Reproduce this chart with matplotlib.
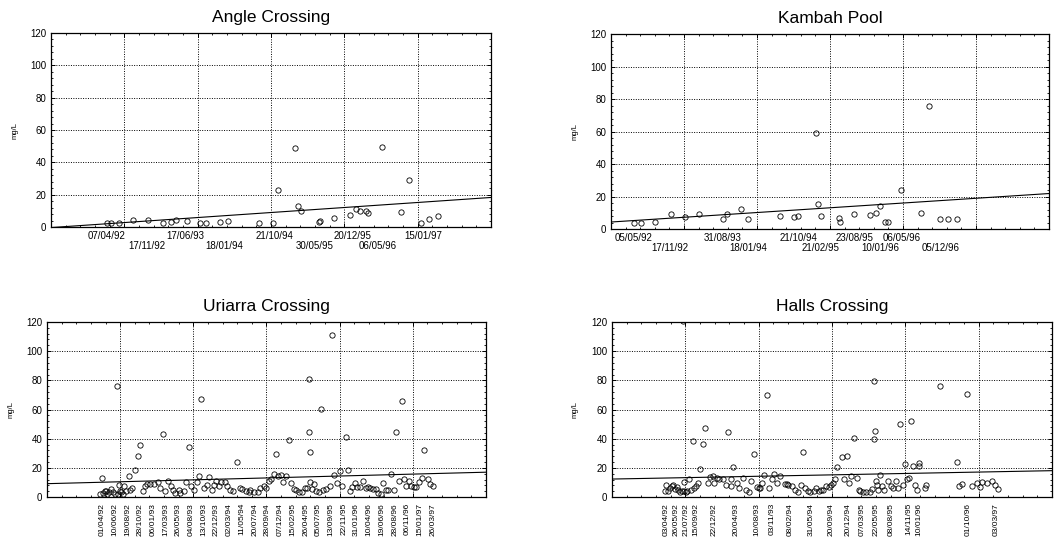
import numpy as np
import matplotlib.pyplot as plt
from datetime import date
from matplotlib.ticker import AutoMinorLocator, MultipleLocator

plt.rcParams['font.family'] = ['Liberation Sans', 'DejaVu Sans']

# sampling dates as decimal years, concentrations in mg/L
angle_x = [1992.27, 1992.34, 1992.45, 1992.66, 1992.89, 1993.12, 1993.24, 1993.32, 1993.48,
           1993.68, 1993.76, 1993.98, 1994.09, 1994.57, 1994.78, 1994.85, 1995.11, 1995.15,
           1995.19, 1995.47, 1995.49, 1995.69, 1995.93, 1996.03, 1996.09, 1996.17, 1996.21,
           1996.42, 1996.71, 1996.83, 1997.00, 1997.13, 1997.26]
angle_y = [2.4, 2.4, 2.4, 4.1, 4.1, 2.4, 3.3, 4.1, 3.9, 2.4, 2.4, 3.3, 3.5, 2.7, 2.7, 22.9,
           48.8, 13.1, 10.0, 3.3, 3.5, 5.7, 7.6, 11.0, 10.2, 10.2, 8.6, 49.8, 9.4, 29.0,
           2.7, 5.1, 6.9]
angle_labels = ['07/04/92', '17/11/92', '17/06/93', '18/01/94', '21/10/94', '30/05/95',
                '20/12/95', '06/05/96', '15/01/97']

kambah_x = [1992.345, 1992.455, 1992.65, 1992.89, 1993.10, 1993.31, 1993.67, 1993.74, 1993.95,
            1994.05, 1994.53, 1994.73, 1994.80, 1995.06, 1995.10, 1995.14, 1995.41, 1995.43,
            1995.64, 1995.87, 1995.96, 1996.02, 1996.10, 1996.14, 1996.34, 1996.64, 1996.75,
            1996.92, 1997.04, 1997.17]
kambah_y = [3.5, 3.5, 4.3, 9.4, 7.6, 9.4, 6.3, 9.4, 12.2, 6.1, 8.2, 7.1, 8.2, 59.0, 15.3, 7.8,
            6.7, 4.3, 9.2, 8.6, 10.0, 14.1, 4.3, 4.3, 24.1, 10.0, 75.9, 6.1, 6.1, 6.3]
kambah_labels = ['05/05/92', '17/11/92', '31/08/93', '18/01/94', '21/10/94', '21/02/95',
                 '23/08/95', '10/01/96', '06/05/96', '05/12/96']

uriarra_x = [1992.225, 1992.25, 1992.26, 1992.29, 1992.31, 1992.325, 1992.35, 1992.38, 1992.415,
             1992.45, 1992.476, 1992.486, 1992.50, 1992.516, 1992.536, 1992.56, 1992.586,
             1992.616, 1992.65, 1992.667, 1992.70, 1992.747, 1992.787, 1992.827, 1992.862,
             1992.893, 1992.933, 1992.978, 1993.033, 1993.088, 1993.128, 1993.174, 1993.204,
             1993.249, 1993.294, 1993.324, 1993.354, 1993.405, 1993.43, 1993.48, 1993.515,
             1993.555, 1993.59, 1993.636, 1993.676, 1993.716, 1993.746, 1993.786, 1993.831,
             1993.861, 1993.897, 1993.932, 1993.967, 1994.012, 1994.047, 1994.097, 1994.133,
             1994.173, 1994.218, 1994.278, 1994.323, 1994.358, 1994.409, 1994.459, 1994.484,
             1994.534, 1994.594, 1994.634, 1994.685, 1994.72, 1994.76, 1994.795, 1994.835,
             1994.865, 1994.896, 1994.941, 1994.971, 1995.026, 1995.061, 1995.096, 1995.132,
             1995.167, 1995.212, 1995.262, 1995.312, 1995.337, 1995.362, 1995.367, 1995.377,
             1995.387, 1995.403, 1995.438, 1995.468, 1995.513, 1995.553, 1995.583, 1995.628,
             1995.679, 1995.709, 1995.749, 1995.789, 1995.829, 1995.869, 1995.915, 1995.945,
             1995.975, 1996.015, 1996.06, 1996.09, 1996.14, 1996.18, 1996.216, 1996.251,
             1996.291, 1996.331, 1996.371, 1996.407, 1996.442, 1996.482, 1996.517, 1996.557,
             1996.602, 1996.643, 1996.673, 1996.718, 1996.758, 1996.803, 1996.833, 1996.868,
             1996.903, 1996.944, 1996.979, 1997.019, 1997.069, 1997.104, 1997.15, 1997.185,
             1997.225]
uriarra_y = [2.0, 13.0, 2.8, 4.0, 4.4, 2.3, 3.2, 5.5, 3.2, 2.3, 75.9, 2.3, 8.3, 3.9, 3.2, 2.3,
             7.8, 3.9, 14.3, 5.0, 6.2, 18.4, 28.3, 35.4, 4.4, 7.4, 9.2, 9.2, 9.2, 10.3, 6.0,
             43.4, 4.1, 11.3, 7.6, 5.1, 2.8, 5.1, 2.8, 4.4, 10.3, 34.3, 7.4, 5.1, 10.3, 14.3,
             66.9, 6.0, 8.0, 14.0, 5.1, 8.5, 11.3, 7.4, 10.1, 10.3, 7.8, 4.8, 4.4, 23.9, 6.0,
             5.3, 4.1, 3.2, 5.1, 3.2, 3.4, 6.2, 7.8, 6.2, 10.8, 12.4, 16.1, 29.7, 14.3, 15.2,
             10.3, 14.3, 39.3, 9.7, 5.5, 4.6, 3.7, 3.2, 6.2, 6.4, 80.7, 44.6, 30.6, 10.3, 5.5,
             9.0, 3.9, 3.2, 60.5, 4.6, 5.7, 7.4, 111.0, 15.4, 9.7, 17.5, 7.4, 41.4, 18.6, 3.9,
             7.1, 9.7, 6.9, 6.9, 11.3, 6.0, 6.9, 6.0, 5.5, 5.5, 2.8, 2.3, 9.4, 4.6, 4.6, 16.1,
             4.6, 44.6, 11.3, 65.7, 12.4, 7.8, 11.3, 7.4, 6.9, 6.9, 10.3, 13.1, 32.4, 12.4,
             9.0, 7.8]
uriarra_labels = ['01/04/92', '10/06/92', '19/08/92', '28/10/92', '06/01/93', '17/03/93',
                  '26/05/93', '04/08/93', '13/10/93', '22/12/93', '02/03/94', '11/05/94',
                  '20/07/94', '28/09/94', '07/12/94', '15/02/95', '26/04/95', '05/07/95',
                  '13/09/95', '22/11/95', '31/01/96', '10/04/96', '19/06/96', '28/08/96',
                  '06/11/96', '15/01/97', '26/03/97']

halls_x = [1992.245, 1992.255, 1992.29, 1992.315, 1992.339, 1992.364, 1992.389, 1992.414,
           1992.439, 1992.464, 1992.488, 1992.503, 1992.518, 1992.528, 1992.548, 1992.573,
           1992.603, 1992.632, 1992.662, 1992.677, 1992.702, 1992.727, 1992.761, 1992.801,
           1992.836, 1992.876, 1992.91, 1992.95, 1992.97, 1993.01, 1993.044, 1993.099,
           1993.149, 1993.183, 1993.223, 1993.228, 1993.258, 1993.308, 1993.342, 1993.407,
           1993.447, 1993.491, 1993.521, 1993.571, 1993.606, 1993.635, 1993.655, 1993.68,
           1993.72, 1993.754, 1993.794, 1993.834, 1993.869, 1993.903, 1993.953, 1994.027,
           1994.052, 1994.077, 1994.127, 1994.167, 1994.216, 1994.261, 1994.286, 1994.325,
           1994.365, 1994.40, 1994.45, 1994.484, 1994.524, 1994.559, 1994.598, 1994.633,
           1994.683, 1994.713, 1994.738, 1994.767, 1994.797, 1994.867, 1994.906, 1994.946,
           1994.971, 1995.015, 1995.045, 1995.095, 1995.13, 1995.149, 1995.189, 1995.224,
           1995.284, 1995.318, 1995.353, 1995.353, 1995.368, 1995.378, 1995.393, 1995.413,
           1995.433, 1995.467, 1995.502, 1995.552, 1995.602, 1995.631, 1995.671, 1995.701,
           1995.741, 1995.78, 1995.815, 1995.84, 1995.875, 1995.904, 1995.929, 1995.959,
           1995.989, 1996.013, 1996.013, 1996.103, 1996.128, 1996.336, 1996.585, 1996.619,
           1996.664, 1996.733, 1996.808, 1996.882, 1996.922, 1996.957, 1997.031, 1997.106,
           1997.156, 1997.195]
halls_y = [4.1, 8.3, 4.1, 6.2, 7.4, 8.3, 5.5, 6.9, 5.1, 3.2, 4.1, 120.5, 10.3, 4.1, 3.2, 4.1,
           12.2, 5.1, 38.4, 6.2, 7.4, 9.4, 19.5, 36.6, 47.4, 9.4, 13.6, 14.3, 9.4, 13.1, 12.4,
           12.4, 8.3, 44.6, 7.4, 12.4, 20.5, 9.4, 6.2, 13.3, 5.1, 3.2, 11.3, 29.7, 7.1, 6.0,
           6.2, 9.4, 15.4, 69.7, 6.2, 12.4, 15.9, 9.4, 14.3, 9.0, 9.0, 8.3, 7.4, 5.1, 3.2, 8.3,
           30.8, 6.2, 4.1, 3.2, 3.9, 6.2, 4.1, 5.1, 5.1, 7.8, 6.9, 8.3, 9.7, 12.4, 20.5, 27.1,
           12.4, 28.3, 9.4, 14.3, 40.5, 13.3, 5.1, 3.9, 3.2, 3.2, 3.2, 5.3, 79.8, 39.5, 45.5,
           11.3, 8.3, 5.1, 15.4, 7.4, 5.1, 11.3, 7.4, 6.2, 11.3, 6.2, 50.3, 8.3, 22.3, 12.4,
           13.3, 52.4, 21.4, 8.3, 5.1, 23.4, 21.4, 6.2, 8.3, 75.9, 24.1, 7.4, 8.7, 70.6, 7.4,
           9.4, 6.7, 10.3, 9.4, 11.3, 8.3, 5.5]
halls_labels = ['03/04/92', '26/05/92', '21/07/92', '15/09/92', '22/12/92', '20/04/93',
                '10/08/93', '03/11/93', '08/02/94', '31/05/94', '20/09/94', '20/12/94',
                '07/03/95', '22/05/95', '08/08/95', '14/11/95', '10/01/96', '01/10/96',
                '03/03/97']


def dec_year(s):
    d, m, y = (int(v) for v in s.split('/'))
    y += 1900
    start = date(y, 1, 1).toordinal()
    length = date(y + 1, 1, 1).toordinal() - start
    return y + (date(y, m, d).toordinal() - start) / length


def draw_panel(ax, title, xs, ys, labels, xlim, rotated):
    xs = np.array(xs)
    ys = np.array(ys)
    ax.plot(xs, ys, 'o', mfc='none', mec='black', ms=3.8, mew=0.6)

    # linear trend across the whole axis
    k, b = np.polyfit(xs, ys, 1)
    ax.plot(xlim, [k * xlim[0] + b, k * xlim[1] + b], color='black', lw=0.8)

    ax.set_xlim(xlim)
    ax.set_ylim(0, 120)
    ax.set_xticks(np.linspace(xlim[0], xlim[1], 7))
    ax.set_xticklabels([])
    ax.xaxis.set_minor_locator(AutoMinorLocator(5))
    ax.yaxis.set_major_locator(MultipleLocator(20))
    ax.yaxis.set_minor_locator(AutoMinorLocator(5))
    ax.tick_params(which='both', direction='in', top=True, right=True, labelsize=7)
    ax.tick_params(which='major', length=3, width=0.7)
    ax.tick_params(which='minor', length=1.5, width=0.6)
    ax.tick_params(axis='x', which='major', pad=0)
    ax.grid(True, which='major', color='black', linestyle=(0, (1, 1.5)), linewidth=0.7)
    for sp in ax.spines.values():
        sp.set_linewidth(0.9)

    ax.set_title(title, fontsize=12.5, pad=8)
    ax.set_ylabel('mg/L', fontsize=5.5)
    ax.yaxis.set_label_coords(-0.075, 0.5)

    for i, lab in enumerate(labels):
        if rotated:
            ax.annotate(lab, xy=(dec_year(lab), 0), xycoords=('data', 'axes fraction'),
                        xytext=(0, -4.3), textcoords='offset points', rotation=90,
                        ha='center', va='top', fontsize=6)
        else:
            off = -6.5 if i % 2 == 0 else -13.7
            ax.annotate(lab, xy=(dec_year(lab), 0), xycoords=('data', 'axes fraction'),
                        xytext=(0, off), textcoords='offset points',
                        ha='center', va='center', fontsize=7)


fig = plt.figure(figsize=(10.59, 5.39), dpi=100)
ax1 = fig.add_axes([0.0482, 0.5788, 0.4155, 0.3600])
ax2 = fig.add_axes([0.5770, 0.5751, 0.4136, 0.3618])
ax3 = fig.add_axes([0.0444, 0.0779, 0.4145, 0.3247])
ax4 = fig.add_axes([0.5779, 0.0779, 0.4155, 0.3247])

draw_panel(ax1, 'Angle Crossing', angle_x, angle_y, angle_labels, (1991.43, 1998.06), False)
draw_panel(ax2, 'Kambah Pool', kambah_x, kambah_y, kambah_labels, (1992.0, 1998.55), False)
draw_panel(ax3, 'Uriarra Crossing', uriarra_x, uriarra_y, uriarra_labels, (1991.42, 1998.03), True)
draw_panel(ax4, 'Halls Crossing', halls_x, halls_y, halls_labels, (1991.45, 1998.0), True)

fig.savefig('out.png', dpi=100)
